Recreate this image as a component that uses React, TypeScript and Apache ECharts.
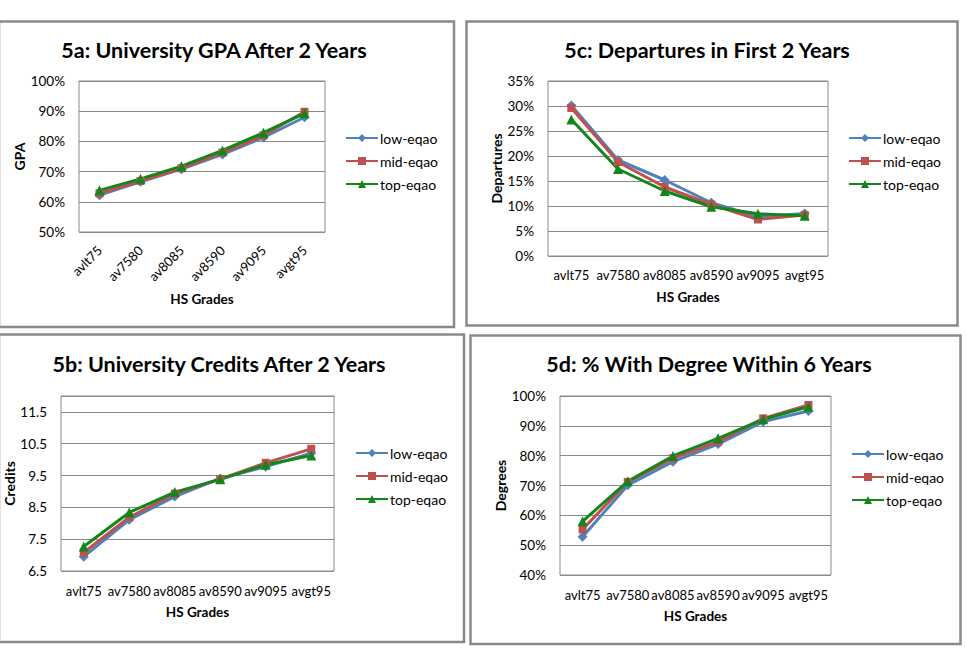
import React, { useEffect, useRef } from "react";
import * as echarts from "echarts";

// High-school grade bands shared by every panel
const CATEGORIES = ["avlt75", "av7580", "av8085", "av8590", "av9095", "avgt95"];
const SERIES_NAMES = ["low-eqao", "mid-eqao", "top-eqao"];

// 5a: University GPA after 2 years (%)
const GPA_LOW = [62.2, 66.6, 70.8, 75.7, 81.3, 88.0];
const GPA_MID = [62.8, 66.9, 71.1, 76.3, 82.0, 89.8];
const GPA_TOP = [63.8, 67.6, 71.8, 77.0, 82.9, 89.3];

// 5b: University credits after 2 years
const CREDITS_LOW = [6.95, 8.11, 8.84, 9.41, 9.78, 10.2];
const CREDITS_MID = [7.08, 8.19, 8.93, 9.39, 9.9, 10.34];
const CREDITS_TOP = [7.27, 8.34, 8.98, 9.38, 9.84, 10.13];

// 5c: Departures in first 2 years (%)
const DEPART_LOW = [30.1, 19.2, 15.2, 10.65, 7.85, 8.5];
const DEPART_MID = [29.6, 18.8, 13.8, 10.3, 7.3, 8.2];
const DEPART_TOP = [27.3, 17.4, 13.0, 9.85, 8.45, 8.05];

// 5d: % with degree within 6 years
const DEGREE_LOW = [52.8, 70.1, 78.0, 83.9, 91.4, 95.0];
const DEGREE_MID = [55.3, 71.2, 79.1, 84.7, 92.5, 97.0];
const DEGREE_TOP = [58.0, 71.4, 79.9, 85.8, 92.2, 96.4];

const COLORS = ["#4f81bd", "#c0504d", "#12861a"];
const SYMBOLS = ["diamond", "rect", "triangle"];
const SYMBOL_SIZES = [10, 8, 10];
const FONT = "Lato, 'Open Sans', sans-serif";
const BORDER = "#8a8a8a";

type Panel = {
  title: string;
  titleX: number;
  titleY: number;
  grid: { left: number; top: number; width: number; height: number };
  yName: string;
  yNameGap: number;
  xNameGap: number;
  min: number;
  max: number;
  interval: number;
  percent: boolean;
  rotate: number;
  labelMargin: number;
  legend: { left: number; top: number; gap: number };
  data: number[][];
};

const PANELS: Panel[] = [
  {
    title: "5a: University GPA After 2 Years",
    titleX: 214,
    titleY: 39,
    grid: { left: 79, top: 81, width: 246, height: 151 },
    yName: "GPA",
    yNameGap: 52,
    xNameGap: 60,
    min: 50,
    max: 100,
    interval: 10,
    percent: true,
    rotate: 45,
    labelMargin: 16,
    legend: { left: 345, top: 131, gap: 9 },
    data: [GPA_LOW, GPA_MID, GPA_TOP],
  },
  {
    title: "5c: Departures in First 2 Years",
    titleX: 707,
    titleY: 39,
    grid: { left: 548, top: 81, width: 280, height: 175 },
    yName: "Departures",
    yNameGap: 44,
    xNameGap: 34,
    min: 0,
    max: 35,
    interval: 5,
    percent: true,
    rotate: 0,
    labelMargin: 12,
    legend: { left: 848, top: 131, gap: 9 },
    data: [DEPART_LOW, DEPART_MID, DEPART_TOP],
  },
  {
    title: "5b: University Credits After 2 Years",
    titleX: 219,
    titleY: 353,
    grid: { left: 61, top: 396, width: 273, height: 175 },
    yName: "Credits",
    yNameGap: 38,
    xNameGap: 34,
    min: 6.5,
    max: 12,
    interval: 1,
    percent: false,
    rotate: 0,
    labelMargin: 13,
    legend: { left: 355, top: 446, gap: 9 },
    data: [CREDITS_LOW, CREDITS_MID, CREDITS_TOP],
  },
  {
    title: "5d: % With Degree Within 6 Years",
    titleX: 709,
    titleY: 353,
    grid: { left: 560, top: 396, width: 271, height: 179 },
    yName: "Degrees",
    yNameGap: 48,
    xNameGap: 34,
    min: 40,
    max: 100,
    interval: 10,
    percent: true,
    rotate: 0,
    labelMargin: 13,
    legend: { left: 851, top: 447, gap: 9 },
    data: [DEGREE_LOW, DEGREE_MID, DEGREE_TOP],
  },
];

// Outer frames around each panel
const FRAMES = [
  { x: -1, y: 21.5, width: 455, height: 305.5 },
  { x: 466.5, y: 21.5, width: 491, height: 304 },
  { x: -1, y: 334.5, width: 465, height: 307.5 },
  { x: 470.5, y: 335.5, width: 490, height: 308.5 },
];

function buildOption() {
  const title: any[] = [];
  const grid: any[] = [];
  const xAxis: any[] = [];
  const yAxis: any[] = [];
  const legend: any[] = [];
  const series: any[] = [];

  PANELS.forEach((p, i) => {
    title.push({
      text: p.title,
      left: p.titleX,
      top: p.titleY,
      textAlign: "center",
      padding: 0,
      textStyle: { fontFamily: FONT, fontSize: 21.5, fontWeight: "bold", color: "#000" },
    });
    grid.push({
      ...p.grid,
      show: true,
      borderColor: BORDER,
      borderWidth: 1,
      backgroundColor: "#fff",
      containLabel: false,
    });
    xAxis.push({
      type: "category",
      gridIndex: i,
      data: CATEGORIES,
      boundaryGap: true,
      axisLine: { show: false },
      axisTick: { show: false },
      axisLabel: {
        interval: 0,
        rotate: p.rotate,
        margin: p.labelMargin,
        fontFamily: FONT,
        fontSize: 13,
        color: "#000",
      },
      name: "HS Grades",
      nameLocation: "middle",
      nameGap: p.xNameGap,
      nameTextStyle: { fontFamily: FONT, fontSize: 13.5, fontWeight: "bold", color: "#000" },
    });
    yAxis.push({
      type: "value",
      gridIndex: i,
      min: p.min,
      max: p.max,
      interval: p.interval,
      axisLine: { show: false },
      axisTick: { show: false },
      splitLine: { lineStyle: { color: BORDER, width: 1 } },
      axisLabel: {
        margin: 14,
        showMaxLabel: p.percent,
        fontFamily: FONT,
        fontSize: 13.5,
        color: "#000",
        formatter: (v: number) => (p.percent ? `${Math.round(v)}%` : v.toFixed(1)),
      },
      name: p.yName,
      nameLocation: "middle",
      nameGap: p.yNameGap,
      nameTextStyle: { fontFamily: FONT, fontSize: 14, fontWeight: "bold", color: "#000" },
    });
    legend.push({
      orient: "vertical",
      left: p.legend.left,
      top: p.legend.top,
      padding: 0,
      itemGap: p.legend.gap,
      itemWidth: 32,
      itemHeight: 10,
      selectedMode: false,
      textStyle: { fontFamily: FONT, fontSize: 14, color: "#000", padding: [0, 0, 0, -3] },
      data: SERIES_NAMES,
    });
    p.data.forEach((values, s) => {
      series.push({
        type: "line",
        name: SERIES_NAMES[s],
        xAxisIndex: i,
        yAxisIndex: i,
        data: values,
        symbol: SYMBOLS[s],
        symbolSize: SYMBOL_SIZES[s],
        showAllSymbol: true,
        lineStyle: { color: COLORS[s], width: 3 },
        itemStyle: { color: COLORS[s] },
        emphasis: { disabled: true },
      });
    });
  });

  return {
    animation: false,
    backgroundColor: "#fff",
    textStyle: { fontFamily: FONT },
    title,
    grid,
    xAxis,
    yAxis,
    legend,
    series,
    graphic: FRAMES.map((f) => ({
      type: "rect",
      shape: { x: f.x, y: f.y, width: f.width, height: f.height },
      style: { fill: "none", stroke: BORDER, lineWidth: 2.5 },
      silent: true,
      z: 100,
    })),
  };
}

export default function App() {
  const ref = useRef<HTMLDivElement>(null);

  useEffect(() => {
    if (!ref.current) return;
    const chart = echarts.init(ref.current, undefined, { renderer: "svg" });
    chart.setOption(buildOption() as any);
    return () => chart.dispose();
  }, []);

  return (
    <div
      ref={ref}
      style={{ position: "fixed", left: 0, top: 0, width: 966, height: 649, background: "#fff" }}
    />
  );
}
